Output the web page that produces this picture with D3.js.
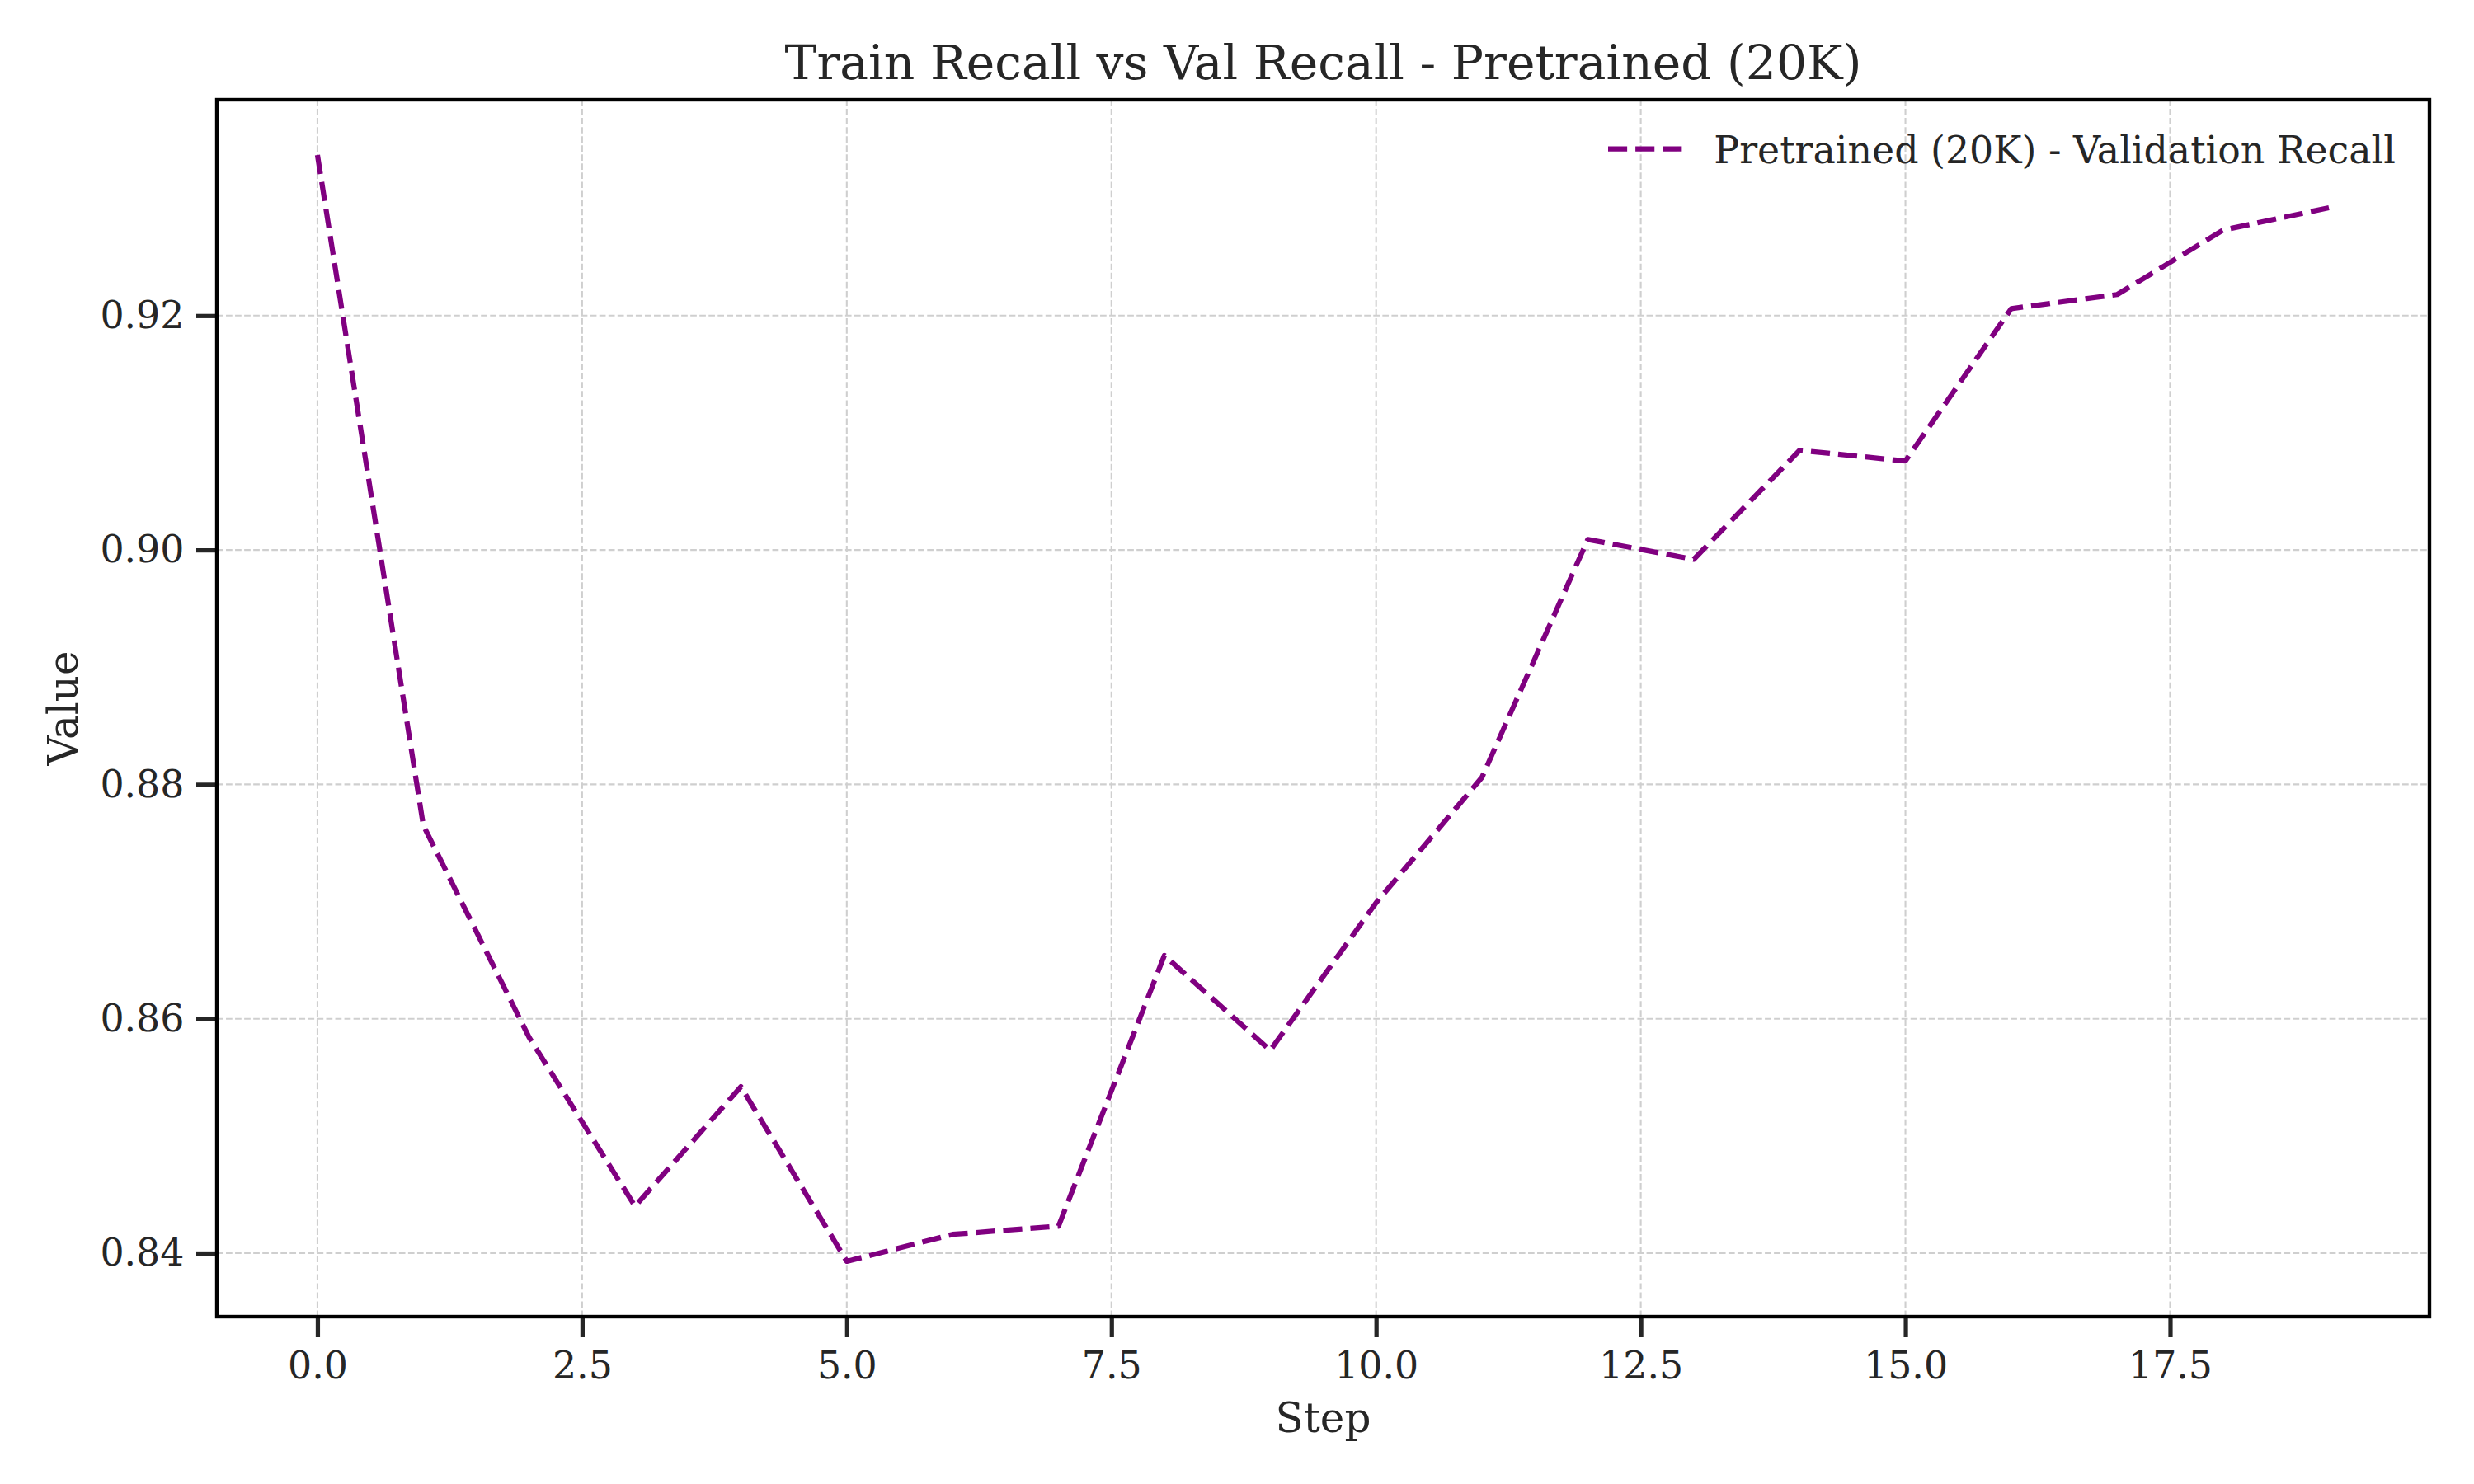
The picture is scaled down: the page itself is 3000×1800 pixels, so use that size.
<!DOCTYPE html>
<html>
<head>
<meta charset="utf-8">
<script src="https://cdn.jsdelivr.net/npm/d3@7"></script>
<style>
  html, body { margin: 0; padding: 0; background: #ffffff; }
  svg { display: block; }
  text { font-family: "DejaVu Serif", serif; fill: #262626; }
</style>
</head>
<body>
<svg id="chart" width="3000" height="1800"></svg>
<script>
// ---- data ----
const steps = [0, 1, 2, 3, 4, 5, 6, 7, 8, 9, 10, 11, 12, 13, 14, 15, 16, 17, 18, 19];
const valRecall = [0.9337, 0.8765, 0.8584, 0.8440, 0.8542, 0.8393, 0.8416, 0.8423, 0.8654, 0.8573,
                   0.8699, 0.8806, 0.9009, 0.8992, 0.9085, 0.9076, 0.9206, 0.9218, 0.9273, 0.9292];
const xTicks = [0, 2.5, 5, 7.5, 10, 12.5, 15, 17.5];
const yTicks = [0.84, 0.86, 0.88, 0.90, 0.92];
const titleText = "Train Recall vs Val Recall - Pretrained (20K)";
const xLabel = "Step";
const yLabel = "Value";
const seriesName = "Pretrained (20K) - Validation Recall";

// ---- layout ----
const L = 263, R = 2946, T = 121, B = 1597;
const PT = 300 / 72;

const svg = d3.select("#chart");

function padded(ext) {
  const m = (ext[1] - ext[0]) * 0.05;
  return [ext[0] - m, ext[1] + m];
}
const x = d3.scaleLinear().domain(padded(d3.extent(steps))).range([L, R]);
const y = d3.scaleLinear().domain(padded(d3.extent(valRecall))).range([B, T]);

// grid
const grid = svg.append("g");
grid.selectAll("line.vg").data(xTicks).enter().append("line")
  .attr("x1", d => x(d)).attr("x2", d => x(d)).attr("y1", T).attr("y2", B)
  .attr("stroke", "#cfcfcf").attr("stroke-width", 0.5 * PT)
  .attr("stroke-dasharray", `${3.7 * 0.5 * PT},${1.6 * 0.5 * PT}`);
grid.selectAll("line.hg").data(yTicks).enter().append("line")
  .attr("x1", L).attr("x2", R).attr("y1", d => y(d)).attr("y2", d => y(d))
  .attr("stroke", "#cfcfcf").attr("stroke-width", 0.5 * PT)
  .attr("stroke-dasharray", `${3.7 * 0.5 * PT},${1.6 * 0.5 * PT}`);

// data line
const line = d3.line().x((d, i) => x(steps[i])).y(d => y(d));
svg.append("path").datum(valRecall)
  .attr("d", line)
  .attr("fill", "none")
  .attr("stroke", "#800080")
  .attr("stroke-width", 1.5 * PT)
  .attr("stroke-dasharray", `${3.7 * 1.5 * PT},${1.6 * 1.5 * PT}`)
  .attr("stroke-linejoin", "round");

// axes
const tickLen = 6 * PT;
const xAxis = d3.axisBottom(x).tickValues(xTicks).tickFormat(d3.format(".1f"))
  .tickSize(tickLen).tickPadding(17).tickSizeOuter(0);
const yAxis = d3.axisLeft(y).tickValues(yTicks).tickFormat(d3.format(".2f"))
  .tickSize(tickLen).tickPadding(3.5 * PT).tickSizeOuter(0);

const gx = svg.append("g").attr("transform", `translate(0,${B})`).call(xAxis);
const gy = svg.append("g").attr("transform", `translate(${L},0)`).call(yAxis);
[gx, gy].forEach(g => {
  g.select(".domain").remove();
  g.selectAll(".tick line").attr("stroke", "#262626").attr("stroke-width", 1.25 * PT);
  g.selectAll(".tick text")
    .style("font-family", '"DejaVu Serif", serif')
    .style("font-size", (11 * PT) + "px")
    .attr("fill", "#262626");
});

// spines
svg.append("rect")
  .attr("x", L).attr("y", T).attr("width", R - L).attr("height", B - T)
  .attr("fill", "none").attr("stroke", "#000000").attr("stroke-width", 1.05 * PT);

// title
svg.append("text")
  .attr("x", (L + R) / 2).attr("y", 96)
  .attr("text-anchor", "middle")
  .style("font-size", (14 * PT) + "px")
  .text(titleText);

// axis labels
svg.append("text")
  .attr("x", (L + R) / 2).attr("y", 1737)
  .attr("text-anchor", "middle")
  .style("font-size", (12 * PT) + "px")
  .text(xLabel);
svg.append("text")
  .attr("transform", `translate(94,${(T + B) / 2}) rotate(-90)`)
  .attr("text-anchor", "middle")
  .style("font-size", (12 * PT) + "px")
  .text(yLabel);

// legend
const legY = 180.6;
const legX = 1950;
svg.append("line")
  .attr("x1", legX).attr("x2", legX + 2 * 11 * PT).attr("y1", legY).attr("y2", legY)
  .attr("stroke", "#800080").attr("stroke-width", 1.5 * PT)
  .attr("stroke-dasharray", `${3.7 * 1.5 * PT},${1.6 * 1.5 * PT}`);
svg.append("text")
  .attr("x", legX + 2.8 * 11 * PT).attr("y", 198)
  .style("font-size", (11 * PT) + "px")
  .text(seriesName);
</script>
</body>
</html>
